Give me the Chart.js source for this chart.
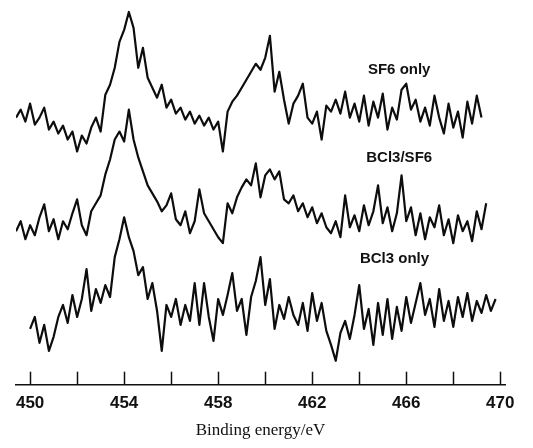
<!DOCTYPE html>
<html>
<head>
<meta charset="utf-8">
<script src="https://cdn.jsdelivr.net/npm/chart.js@4.4.0/dist/chart.umd.min.js"></script>
<style>
  html, body { margin: 0; padding: 0; background: #fff; }
  #wrap { width: 533px; height: 448px; }
</style>
</head>
<body>
<div id="wrap"><canvas id="grafica"></canvas></div>
<script>
// energia de enlace (eV): malla del espectro, paso 0.2 eV desde 449.4
const eInicio = 449.4;
const ePaso = 0.2;

// ticks del eje X
const ticksX = [450, 452, 454, 456, 458, 460, 462, 464, 466, 468, 470];

// intensidades (u.a., ya desplazadas como en la figura)
const sf6Only = [
  268, 276, 264, 282, 261, 268, 278, 256, 264, 252, 260, 246, 254, 234, 250, 242, 258, 268, 254, 291,
  301, 318, 344, 356, 374, 358, 318, 338, 308, 298, 288, 301, 278, 286, 272, 278, 266, 274, 262, 270,
  260, 268, 256, 264, 234, 274, 284, 290, 298, 306, 314, 322, 316, 328, 350, 294, 314, 286, 262, 282,
  290, 302, 268, 262, 274, 246, 280, 274, 286, 272, 294, 268, 282, 264, 290, 260, 284, 268, 292, 256,
  278, 266, 296, 302, 276, 286, 264, 278, 260, 290, 268, 252, 282, 258, 274, 248, 284, 262, 290, 268
];

const bcl3Sf6 = [
  154, 164, 146, 160, 150, 168, 181, 154, 166, 146, 164, 156, 172, 186, 160, 150, 174, 182, 190, 211,
  226, 246, 254, 244, 276, 246, 228, 214, 200, 192, 184, 174, 180, 192, 166, 160, 174, 152, 164, 196,
  172, 164, 156, 148, 142, 182, 172, 188, 198, 206, 200, 222, 188, 210, 216, 206, 214, 186, 182, 190,
  174, 182, 168, 178, 162, 172, 158, 152, 164, 148, 190, 158, 170, 154, 180, 160, 174, 200, 162, 178,
  154, 172, 210, 164, 178, 150, 172, 146, 168, 158, 180, 150, 166, 142, 170, 154, 164, 144, 174, 156,
  182
];

const bcl3Only = [
  null, null, null, 56, 68, 42, 60, 34, 48, 68, 80, 62, 90, 68, 86, 116, 74, 96, 82, 100,
  88, 128, 146, 168, 148, 134, 110, 118, 86, 102, 74, 34, 80, 68, 86, 60, 80, 64, 102, 60,
  102, 68, 44, 86, 70, 90, 112, 74, 86, 50, 88, 104, 128, 80, 106, 56, 80, 66, 88, 70,
  60, 82, 54, 92, 64, 82, 54, 40, 24, 52, 64, 46, 70, 100, 56, 76, 40, 82, 50, 86,
  46, 78, 54, 88, 62, 82, 102, 70, 86, 58, 96, 64, 84, 58, 88, 68, 92, 64, 84, 72,
  90, 74, 86
];

// etiquetas de cada espectro: [texto, energia, intensidad]
const etiquetas = [
  ['SF6 only', 465.7, 316],
  ['BCl3/SF6', 465.7, 228],
  ['BCl3 only', 465.5, 126]
];

function aPuntos(serie) {
  return serie.map((v, i) => ({ x: +(eInicio + i * ePaso).toFixed(2), y: v }));
}

// ticks hacia arriba y etiquetas de texto
const extras = {
  id: 'extras',
  afterDatasetsDraw(chart) {
    const ctx = chart.ctx;
    const x = chart.scales.x;
    const y = chart.scales.y;
    const base = chart.chartArea.bottom;
    ctx.save();
    ctx.strokeStyle = '#111';
    ctx.lineWidth = 1.5;
    ticksX.forEach(t => {
      const px = Math.round(x.getPixelForValue(t)) + 0.5;
      ctx.beginPath();
      ctx.moveTo(px, base);
      ctx.lineTo(px, base - 13);
      ctx.stroke();
    });
    ctx.fillStyle = '#111';
    ctx.font = 'bold 15px "Liberation Sans", Arial, sans-serif';
    ctx.textAlign = 'center';
    ctx.textBaseline = 'middle';
    etiquetas.forEach(([txt, e, v]) => {
      ctx.fillText(txt, x.getPixelForValue(e), y.getPixelForValue(v));
    });
    ctx.restore();
  }
};

const dataset = (label, serie) => ({
  label: label,
  data: aPuntos(serie),
  borderColor: '#0d0d0d',
  borderWidth: 2.2,
  borderJoinStyle: 'round',
  pointRadius: 0,
  tension: 0,
  fill: false,
  spanGaps: false
});

new Chart(document.getElementById('grafica').getContext('2d'), {
  type: 'line',
  data: {
    datasets: [
      dataset('SF6 only', sf6Only),
      dataset('BCl3/SF6', bcl3Sf6),
      dataset('BCl3 only', bcl3Only)
    ]
  },
  options: {
    responsive: true,
    maintainAspectRatio: false,
    animation: false,
    layout: { padding: { left: 16, right: 28, top: 0, bottom: 9 } },
    scales: {
      x: {
        type: 'linear',
        min: 449.4,
        max: 470.2,
        afterBuildTicks: (scale) => { scale.ticks = ticksX.map(v => ({ value: v })); },
        border: { display: true, color: '#111', width: 1.5 },
        grid: { display: false, drawTicks: false },
        ticks: {
          padding: 11,
          color: '#111',
          maxRotation: 0,
          autoSkip: false,
          font: { family: '"Liberation Sans", Arial, sans-serif', size: 17, weight: 'bold', lineHeight: 0.9 },
          callback: (v) => ((v - 450) % 4 === 0 ? String(v) : '')
        },
        title: {
          display: true,
          text: 'Binding energy/eV',
          color: '#111',
          padding: { top: 0, bottom: 0 },
          font: { family: '"Liberation Serif", "Times New Roman", serif', size: 17, lineHeight: 1.0 }
        }
      },
      y: {
        display: false,
        min: 0,
        max: 386
      }
    },
    plugins: {
      legend: { display: false },
      tooltip: { enabled: false }
    }
  },
  plugins: [extras]
});
</script>
</body>
</html>
